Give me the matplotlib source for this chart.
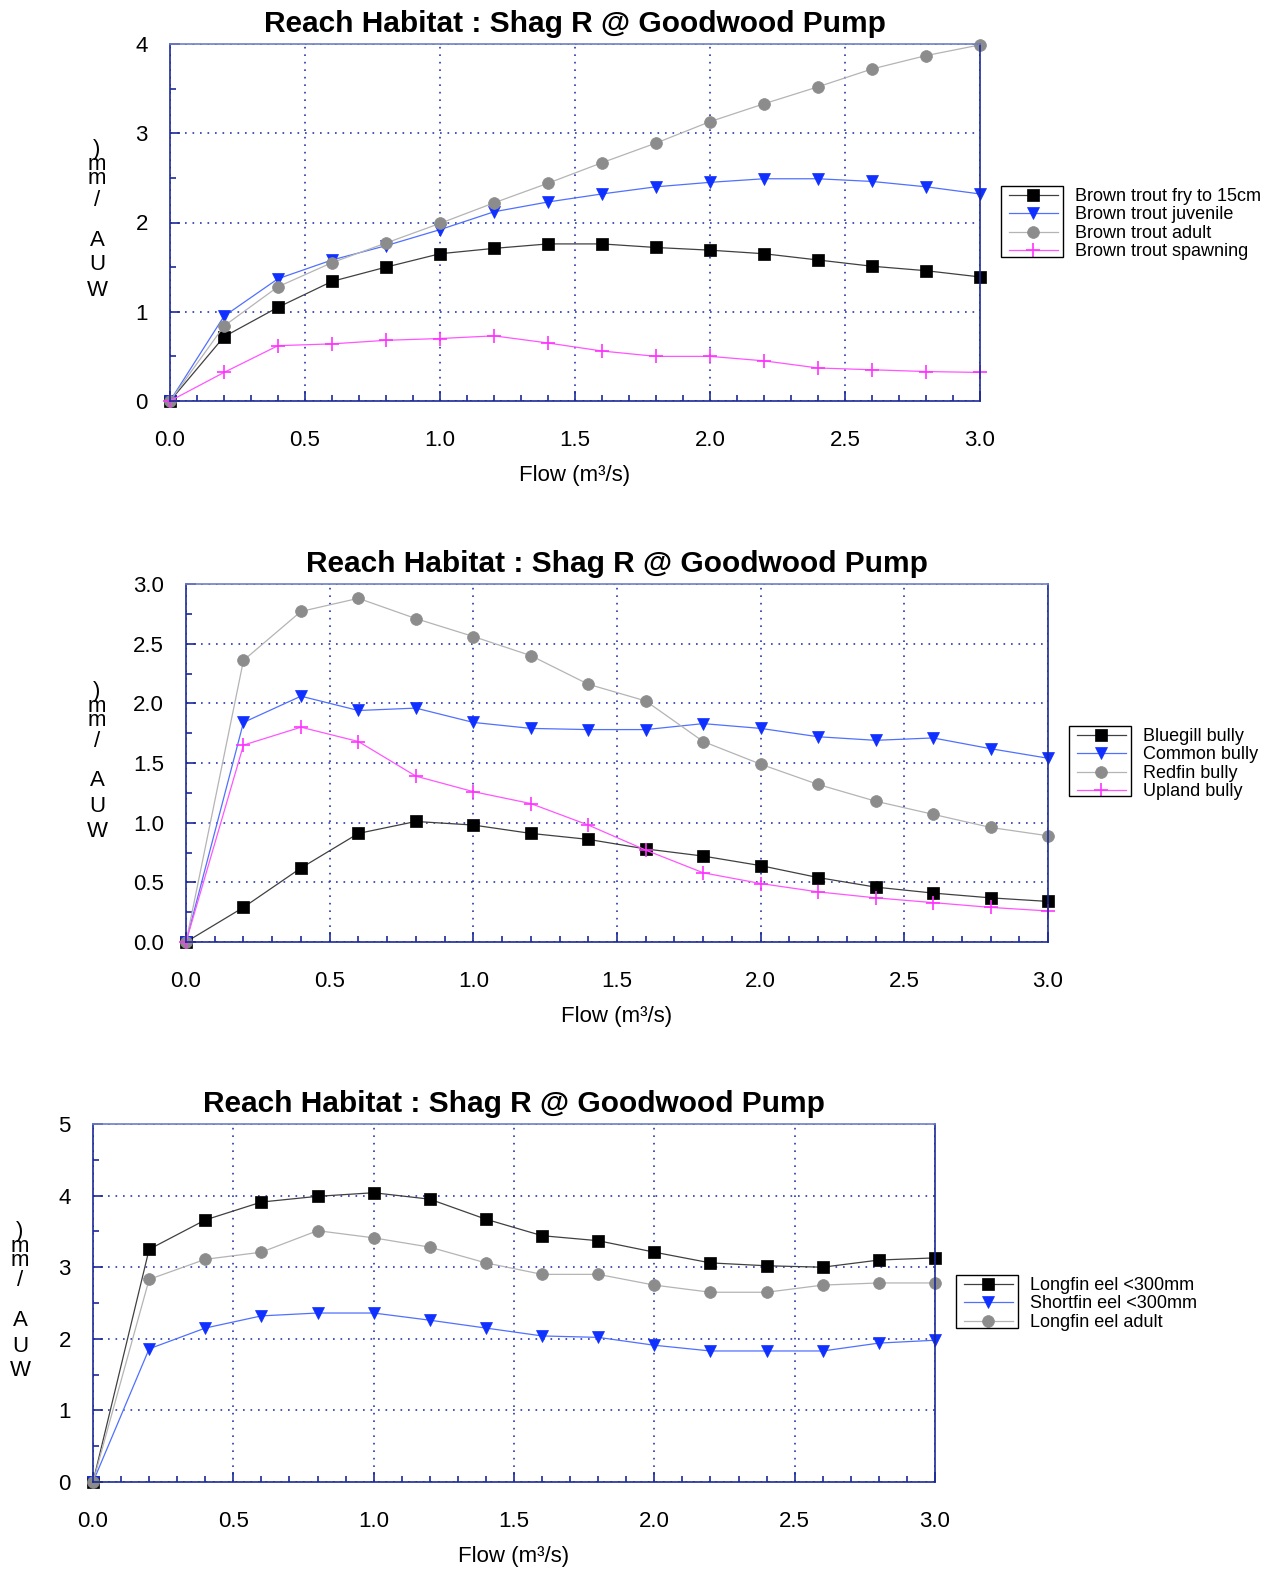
import numpy as np
import matplotlib
matplotlib.use("Agg")
import matplotlib.pyplot as plt
from matplotlib.patches import Rectangle
from matplotlib.ticker import MultipleLocator, FormatStrFormatter

plt.rcParams['font.family'] = ['Liberation Sans', 'DejaVu Sans']

# flow values, shared by all three panels
flow = [0.0, 0.2, 0.4, 0.6, 0.8, 1.0, 1.2, 1.4, 1.6, 1.8, 2.0, 2.2, 2.4, 2.6, 2.8, 3.0]

# panel 1 - brown trout
bt_fry = [0, 0.72, 1.05, 1.34, 1.50, 1.65, 1.71, 1.76, 1.76, 1.72, 1.69, 1.65, 1.58, 1.51, 1.46, 1.39]
bt_juv = [0, 0.95, 1.37, 1.58, 1.74, 1.92, 2.12, 2.23, 2.32, 2.40, 2.45, 2.49, 2.49, 2.46, 2.40, 2.32]
bt_adult = [0, 0.84, 1.28, 1.55, 1.77, 1.99, 2.22, 2.44, 2.67, 2.89, 3.13, 3.33, 3.52, 3.72, 3.87, 3.99]
bt_spawn = [0, 0.32, 0.62, 0.64, 0.68, 0.70, 0.73, 0.65, 0.56, 0.50, 0.50, 0.45, 0.37, 0.35, 0.33, 0.32]

# panel 2 - bullies
bluegill = [0, 0.29, 0.62, 0.91, 1.01, 0.98, 0.91, 0.86, 0.78, 0.72, 0.64, 0.54, 0.46, 0.41, 0.37, 0.34]
common = [0, 1.84, 2.06, 1.94, 1.96, 1.84, 1.79, 1.78, 1.78, 1.83, 1.79, 1.72, 1.69, 1.71, 1.62, 1.54]
redfin = [0, 2.36, 2.77, 2.88, 2.71, 2.56, 2.40, 2.16, 2.02, 1.68, 1.49, 1.32, 1.18, 1.07, 0.96, 0.89]
upland = [0, 1.65, 1.80, 1.68, 1.39, 1.26, 1.16, 0.98, 0.77, 0.58, 0.49, 0.42, 0.37, 0.33, 0.29, 0.26]

# panel 3 - eels
longfin_small = [0, 3.25, 3.66, 3.91, 3.99, 4.04, 3.95, 3.67, 3.44, 3.37, 3.21, 3.06, 3.02, 3.00, 3.10, 3.13]
shortfin_small = [0, 1.86, 2.15, 2.32, 2.36, 2.36, 2.26, 2.15, 2.04, 2.02, 1.91, 1.83, 1.83, 1.83, 1.94, 1.98]
longfin_adult = [0, 2.83, 3.11, 3.21, 3.51, 3.41, 3.28, 3.06, 2.90, 2.90, 2.75, 2.65, 2.65, 2.75, 2.78, 2.78]

title = "Reach Habitat : Shag R @ Goodwood Pump"
ylab_chars = ["W", "U", "A", "/", "m", "m", ")"]

W, H = 1279, 1571
fig = plt.figure(figsize=(W / 100, H / 100), dpi=100)

# (line colour, marker colour, marker, size)
styles = {
    "sq": ("#404040", "black", "s", 9),
    "tri": ("#5070ff", "#1030ff", "v", 9),
    "circ": ("#b4b4b4", "#8c8c8c", "o", 8.5),
    "plus": ("#ff55ff", "#ff33ff", "+", 10),
}

navy = "#1c2a99"


def px_rect(l, t, r, b):
    return [l / W, 1 - b / H, (r - l) / W, (b - t) / H]


def make_panel(rect, ylab_dx, ymax, ymajor, yminor, yfmt, series, box, leg_xy):
    ax = fig.add_axes(px_rect(*rect))
    for vals, lab, key in series:
        lc, mc, mk, ms = styles[key]
        ax.plot(flow, vals, color=lc, lw=0.9, marker=mk, ms=ms, mfc=mc, mec=mc,
                mew=1.2 if mk == "+" else 0.5, label=lab, clip_on=False)
    ax.set_xlim(0, 3.0)
    ax.set_ylim(0, ymax)
    ax.xaxis.set_major_locator(MultipleLocator(0.5))
    ax.xaxis.set_minor_locator(MultipleLocator(0.1))
    ax.xaxis.set_major_formatter(FormatStrFormatter("%.1f"))
    ax.yaxis.set_major_locator(MultipleLocator(ymajor))
    ax.yaxis.set_minor_locator(MultipleLocator(yminor))
    ax.yaxis.set_major_formatter(FormatStrFormatter(yfmt))
    ax.tick_params(which="both", direction="in", color=navy, labelsize=16)
    ax.tick_params(which="major", length=7, width=1.2)
    ax.tick_params(which="minor", length=4, width=1.2)
    ax.tick_params(axis="x", which="major", pad=21)
    ax.tick_params(axis="y", which="major", pad=16)
    ax.grid(True, which="major", color="#2838b0", ls=(0, (1, 3.5)), lw=1.2)
    for s in ["left", "bottom", "right"]:
        ax.spines[s].set_color(navy)
        ax.spines[s].set_linewidth(1.2)
    ax.spines["top"].set_color("#7080c4")
    ax.spines["top"].set_linewidth(1.2)
    ax.set_xlabel("Flow (m³/s)", fontsize=16, labelpad=10)
    ax.set_title(title, fontsize=21.5, fontweight="bold", pad=9)

    # stacked y label characters
    l, t, r, b = rect
    offs = [111, 136, 161, 201, 222, 236, 251]
    for ch, o in zip(ylab_chars, offs):
        fig.text((l + ylab_dx) / W, 1 - (b - o) / H, ch, fontsize=16,
                 ha="center", va="center")

    ax.legend(loc="upper left", bbox_to_anchor=(leg_xy[0] / W, 1 - leg_xy[1] / H),
              bbox_transform=fig.transFigure, frameon=False, fontsize=13,
              handlelength=2.7, handletextpad=0.95, labelspacing=0.08,
              borderpad=0, borderaxespad=0)
    fig.add_artist(Rectangle((box[0] / W, 1 - box[3] / H), (box[2] - box[0]) / W,
                             (box[3] - box[1]) / H, transform=fig.transFigure,
                             fill=False, ec="black", lw=1.0))
    return ax


make_panel((170, 44, 980, 401), -73, 4, 1, 0.5, "%d",
           [(bt_fry, "Brown trout fry to 15cm", "sq"),
            (bt_juv, "Brown trout juvenile", "tri"),
            (bt_adult, "Brown trout adult", "circ"),
            (bt_spawn, "Brown trout spawning", "plus")],
           (1001, 186, 1063, 257), (1009, 188))

make_panel((186, 584, 1048, 942), -89, 3.0, 0.5, 0.25, "%.1f",
           [(bluegill, "Bluegill bully", "sq"),
            (common, "Common bully", "tri"),
            (redfin, "Redfin bully", "circ"),
            (upland, "Upland bully", "plus")],
           (1069, 726, 1131, 796), (1077, 728))

make_panel((93, 1124, 935, 1482), -73, 5, 1, 0.5, "%d",
           [(longfin_small, "Longfin eel <300mm", "sq"),
            (shortfin_small, "Shortfin eel <300mm", "tri"),
            (longfin_adult, "Longfin eel adult", "circ")],
           (956, 1275, 1018, 1328), (964, 1277))

fig.savefig("out.png", dpi=100)
